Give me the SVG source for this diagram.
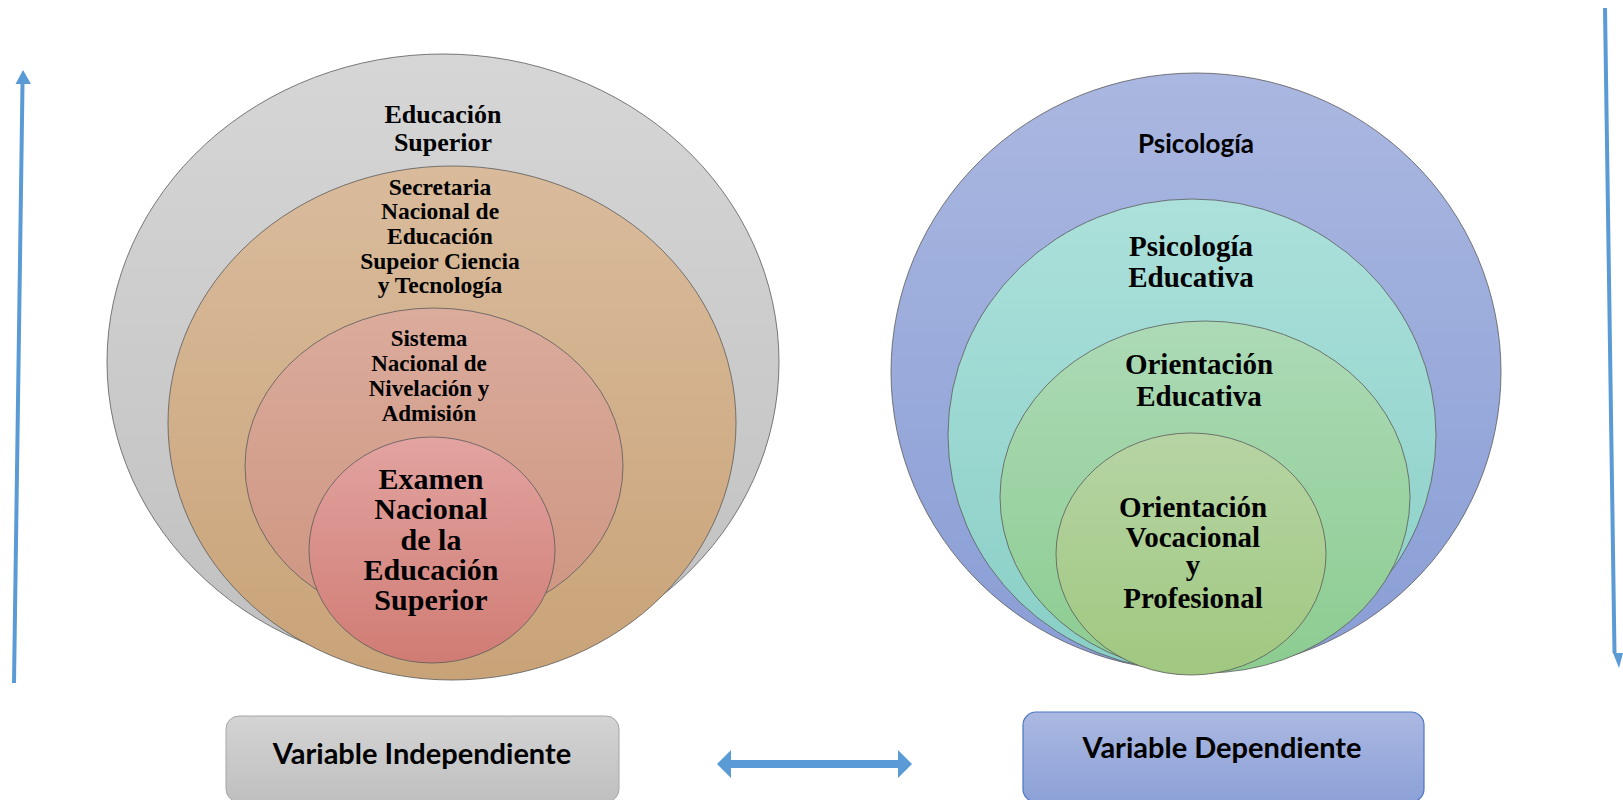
<svg xmlns="http://www.w3.org/2000/svg" width="1623" height="800" viewBox="0 0 1623 800">
<defs>
<linearGradient id="gGray" x1="0" y1="0" x2="0" y2="1"><stop offset="0" stop-color="#d6d6d6"/><stop offset="1" stop-color="#c0c0c0"/></linearGradient>
<linearGradient id="gOrange" x1="0" y1="0" x2="0" y2="1"><stop offset="0" stop-color="#d9bb9c"/><stop offset="1" stop-color="#c9a378"/></linearGradient>
<linearGradient id="gRose" x1="0" y1="0" x2="0" y2="1"><stop offset="0" stop-color="#dbab9c"/><stop offset="1" stop-color="#cd9580"/></linearGradient>
<linearGradient id="gRed" x1="0" y1="0" x2="0" y2="1"><stop offset="0" stop-color="#e2a3a0"/><stop offset="1" stop-color="#d07c74"/></linearGradient>
<linearGradient id="gBlue" x1="0" y1="0" x2="0" y2="1"><stop offset="0" stop-color="#aab7e0"/><stop offset="1" stop-color="#899ed6"/></linearGradient>
<linearGradient id="gTeal" x1="0" y1="0" x2="0" y2="1"><stop offset="0" stop-color="#ace0db"/><stop offset="1" stop-color="#88cfc6"/></linearGradient>
<linearGradient id="gGreen" x1="0" y1="0" x2="0" y2="1"><stop offset="0" stop-color="#acdab6"/><stop offset="1" stop-color="#8ccc90"/></linearGradient>
<linearGradient id="gOlive" x1="0" y1="0" x2="0" y2="1"><stop offset="0" stop-color="#b6d4a4"/><stop offset="1" stop-color="#a0c880"/></linearGradient>
<linearGradient id="gBoxGray" x1="0" y1="0" x2="0" y2="1"><stop offset="0" stop-color="#d4d4d4"/><stop offset="1" stop-color="#bfbfbf"/></linearGradient>
<linearGradient id="gBoxBlue" x1="0" y1="0" x2="0" y2="1"><stop offset="0" stop-color="#abb8e1"/><stop offset="1" stop-color="#8ca1d8"/></linearGradient>
</defs>
<style>
.c{stroke:#5a5a5a;stroke-width:0.8}
.ts{font-family:"Liberation Serif","Times New Roman",serif;font-weight:bold;fill:#000;text-anchor:middle}
.tn{font-family:Lato,"Liberation Sans",sans-serif;font-weight:bold;fill:#000;text-anchor:middle}
.ar{fill:#5b9bd5;stroke:none}
</style>
<rect width="1623" height="800" fill="#fff"/>

<g id="educacion-superior">
<ellipse class="c" cx="443" cy="362" rx="336" ry="308" fill="url(#gGray)"/>
<text class="ts" font-size="26"><tspan x="443" y="123">Educación</tspan><tspan x="443" y="151">Superior</tspan></text>
</g>
<g id="secretaria">
<ellipse class="c" cx="452" cy="423" rx="284" ry="257" fill="url(#gOrange)"/>
<text class="ts" font-size="23.5"><tspan x="440" y="195">Secretaria</tspan><tspan x="440" y="219">Nacional de</tspan><tspan x="440" y="244">Educación</tspan><tspan x="440" y="269">Supeior Ciencia</tspan><tspan x="440" y="293">y Tecnología</tspan></text>
</g>
<g id="sistema">
<ellipse class="c" cx="434" cy="466" rx="189" ry="158" fill="url(#gRose)"/>
<text class="ts" font-size="23"><tspan x="429" y="346">Sistema</tspan><tspan x="429" y="371">Nacional de</tspan><tspan x="429" y="396">Nivelación y</tspan><tspan x="429" y="421">Admisión</tspan></text>
</g>
<g id="examen">
<ellipse class="c" cx="432" cy="550" rx="123" ry="113" fill="url(#gRed)"/>
<text class="ts" font-size="30"><tspan x="431" y="489">Examen</tspan><tspan x="431" y="519">Nacional</tspan><tspan x="431" y="550">de la</tspan><tspan x="431" y="580">Educación</tspan><tspan x="431" y="610">Superior</tspan></text>
</g>

<g id="psicologia">
<ellipse class="c" cx="1196" cy="372" rx="305" ry="299" fill="url(#gBlue)"/>
<text class="tn" font-size="26" x="1196" y="153">Psicología</text>
</g>
<g id="psicologia-educativa">
<ellipse class="c" cx="1192" cy="435" rx="244" ry="236" fill="url(#gTeal)"/>
<text class="ts" font-size="29"><tspan x="1191" y="256">Psicología</tspan><tspan x="1191" y="287">Educativa</tspan></text>
</g>
<g id="orientacion-educativa">
<ellipse class="c" cx="1205" cy="497" rx="205" ry="176" fill="url(#gGreen)"/>
<text class="ts" font-size="29"><tspan x="1199" y="374">Orientación</tspan><tspan x="1199" y="406">Educativa</tspan></text>
</g>
<g id="orientacion-vocacional">
<ellipse class="c" cx="1191" cy="554" rx="135" ry="121" fill="url(#gOlive)"/>
<text class="ts" font-size="29"><tspan x="1193" y="517">Orientación</tspan><tspan x="1193" y="547">Vocacional</tspan><tspan x="1193" y="575">y</tspan><tspan x="1193" y="608">Profesional</tspan></text>
</g>

<g id="variable-independiente">
<rect x="226" y="716" width="393" height="86" rx="13" fill="url(#gBoxGray)" stroke="#a6a6a6" stroke-width="1"/>
<text class="tn" font-size="29" x="422" y="764">Variable Independiente</text>
</g>
<g id="variable-dependiente">
<rect x="1023" y="712" width="401" height="90" rx="13" fill="url(#gBoxBlue)" stroke="#4a76c6" stroke-width="1.2"/>
<text class="tn" font-size="29" x="1222" y="758">Variable Dependiente</text>
</g>

<g id="connectors">
<polygon class="ar" points="12,683 16,683 24.5,84 31,84 23,70 15.5,84 20.5,84"/>
<polygon class="ar" points="1603,8 1607,8 1616.5,653 1623,653 1619,668 1613,653 1612.5,653"/>
<polygon class="ar" points="717,764 731,750 731,760 898,760 898,750 912,764 898,778 898,768 731,768 731,778"/>
</g>
</svg>
